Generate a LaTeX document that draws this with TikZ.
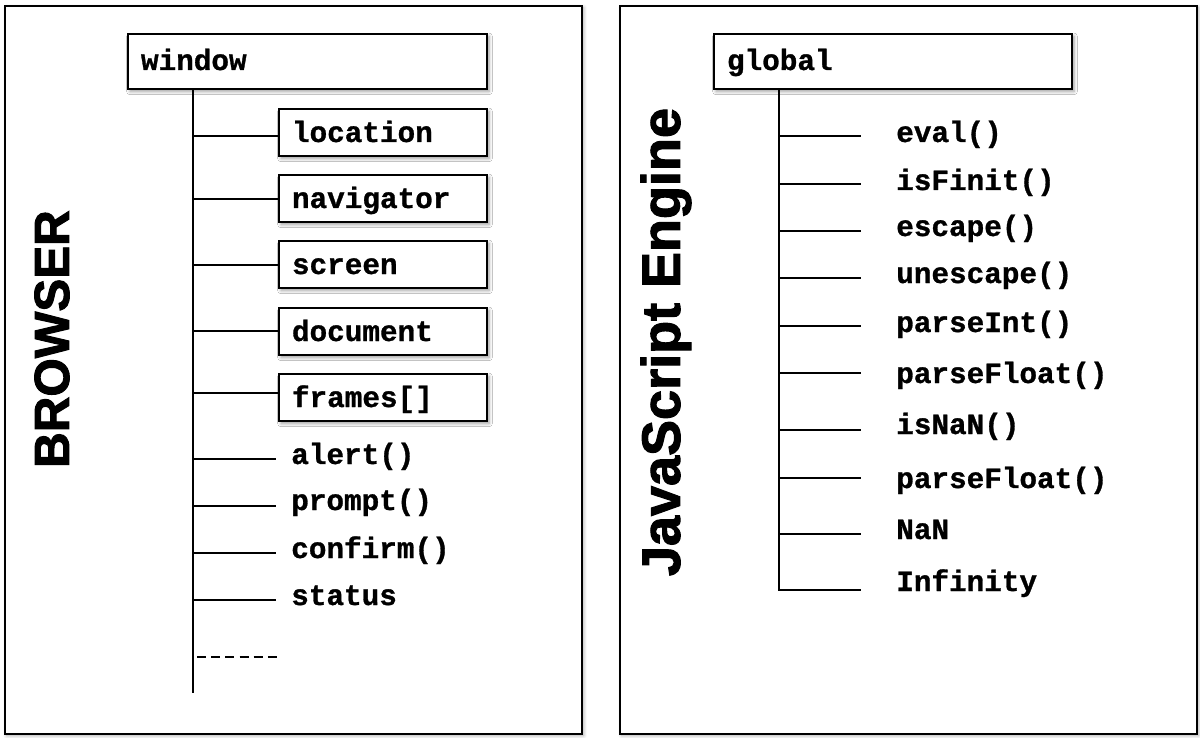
\documentclass[tikz,border=0pt]{standalone}
\usepackage{fontspec}
\setmonofont[BoldFeatures={FakeBold=1}]{Liberation Mono}
\newfontfamily\titlefont[FakeBold=2]{Liberation Sans Bold}
\usetikzlibrary{shadows.blur}
\def\px{0.75pt}
\tikzset{
  panel/.style={draw, line width=1.5pt, fill=white, anchor=north west, inner sep=0pt,
    blur shadow={shadow xshift=1.2pt, shadow yshift=-1.2pt, shadow blur radius=2.5pt, shadow opacity=35}},
  monotext/.style={font=\ttfamily\bfseries\fontsize{22}{26}\selectfont},
  parentbox/.style={monotext, draw, line width=1.5pt, fill=white, anchor=base west,
    inner ysep=0pt, inner xsep=9.75pt, text height=27pt, text depth=14.25pt,
    blur shadow={shadow xshift=1.5pt, shadow yshift=-1.8pt, shadow blur radius=2.5pt, shadow opacity=40}},
  childbox/.style={monotext, draw, line width=1.5pt, fill=white, anchor=base west,
    inner ysep=0pt, inner xsep=9.75pt, text height=24.75pt, text depth=10.5pt,
    blur shadow={shadow xshift=1.5pt, shadow yshift=-1.8pt, shadow blur radius=2.5pt, shadow opacity=40}},
  leftitem/.style={monotext, anchor=base west, inner xsep=11.25pt, inner ysep=0pt},
  rightitem/.style={monotext, anchor=base west, inner xsep=26.25pt, inner ysep=0pt},
  conn/.style={line width=1.1pt},
  spine/.style={line width=1.3pt},
  title/.style={font=\titlefont\fontsize{37}{40}\selectfont, inner sep=0pt, rotate=90},
}
\begin{document}
\begin{tikzpicture}[x=0.75pt, y=-0.75pt]
\useasboundingbox (0,0) rectangle (1200,738);
% panels
\node[panel, minimum width=577*\px, minimum height=728*\px] (bpanel) at (4,5) {};
\node[panel, minimum width=577*\px, minimum height=728*\px] (jpanel) at (619,5) {};
% titles
\node[title] (browser) at (52,339) {BROWSER};
\node[title, font=\titlefont\fontsize{40.5}{44}\selectfont] (jsengine) at (666,342) {JavaScript Engine};

% ---------------- BROWSER side ----------------
\node[parentbox] (window) at (127,70) {\makebox[249.75pt][l]{window}};
\coordinate (btop) at (193,89);
\coordinate (bbot) at (193,693);
\draw[spine] (btop) -- (bbot);

\node[childbox] (location)  at (278,142) {\makebox[136.5pt][l]{location}};
\node[childbox] (navigator) at (278,208) {\makebox[136.5pt][l]{navigator}};
\node[childbox] (screen)    at (278,274) {\makebox[136.5pt][l]{screen}};
\node[childbox] (document)  at (278,341) {\makebox[136.5pt][l]{document}};
\node[childbox] (frames)    at (278,407) {\makebox[136.5pt][l]{frames[]}};

\node[leftitem] (alert)   at (276,464) {alert()};
\node[leftitem] (prompt)  at (276,510) {prompt()};
\node[leftitem] (confirm) at (276,558) {confirm()};
\node[leftitem] (status)  at (276,605) {status};

\draw[conn] ([yshift=4.5pt]location.base west -| btop) -- ([yshift=4.5pt]location.base west);
\draw[conn] ([yshift=6.75pt]navigator.base west -| btop) -- ([yshift=6.75pt]navigator.base west);
\draw[conn] ([yshift=6.75pt]screen.base west -| btop) -- ([yshift=6.75pt]screen.base west);
\draw[conn] ([yshift=7.5pt]document.base west -| btop) -- ([yshift=7.5pt]document.base west);
\draw[conn] ([yshift=10.5pt]frames.base west -| btop) -- ([yshift=10.5pt]frames.base west);
\draw[conn] ([yshift=3.75pt]alert.base west -| btop) -- ([yshift=3.75pt]alert.base west);
\draw[conn] ([yshift=3pt]prompt.base west -| btop) -- ([yshift=3pt]prompt.base west);
\draw[conn] ([yshift=3.75pt]confirm.base west -| btop) -- ([yshift=3.75pt]confirm.base west);
\draw[conn] ([yshift=3.75pt]status.base west -| btop) -- ([yshift=3.75pt]status.base west);

\coordinate (dashA) at (197,657);
\coordinate (dashB) at (277,657);
\draw[conn, dash pattern=on 6.8pt off 3.84pt] (dashA) -- (dashB);

% ---------------- JavaScript Engine side ----------------
\node[parentbox] (global) at (713,70) {\makebox[249pt][l]{global}};
\coordinate (gtop) at (779,89);

\node[rightitem] (eval)      at (861,142) {eval()};
\node[rightitem] (isfinit)   at (861,190) {isFinit()};
\node[rightitem] (escape)    at (861,236) {escape()};
\node[rightitem] (unescape)  at (861,283) {unescape()};
\node[rightitem] (parseint)  at (861,332) {parseInt()};
\node[rightitem] (parsefloat) at (861,383) {parseFloat()};
\node[rightitem] (isnan)     at (861,434) {isNaN()};
\node[rightitem] (parsefloatb) at (861,488) {parseFloat()};
\node[rightitem] (nan)       at (861,539) {NaN};
\node[rightitem] (infinity)  at (861,591) {Infinity};

\draw[spine] (gtop) |- ([yshift=0.75pt]infinity.base west);
\draw[conn] ([yshift=4.5pt]eval.base west -| gtop) -- ([yshift=4.5pt]eval.base west);
\draw[conn] ([yshift=4.5pt]isfinit.base west -| gtop) -- ([yshift=4.5pt]isfinit.base west);
\draw[conn] ([yshift=3.75pt]escape.base west -| gtop) -- ([yshift=3.75pt]escape.base west);
\draw[conn] ([yshift=3.75pt]unescape.base west -| gtop) -- ([yshift=3.75pt]unescape.base west);
\draw[conn] ([yshift=4.5pt]parseint.base west -| gtop) -- ([yshift=4.5pt]parseint.base west);
\draw[conn] ([yshift=7.5pt]parsefloat.base west -| gtop) -- ([yshift=7.5pt]parsefloat.base west);
\draw[conn] ([yshift=3pt]isnan.base west -| gtop) -- ([yshift=3pt]isnan.base west);
\draw[conn] ([yshift=7.5pt]parsefloatb.base west -| gtop) -- ([yshift=7.5pt]parsefloatb.base west);
\draw[conn] ([yshift=3.75pt]nan.base west -| gtop) -- ([yshift=3.75pt]nan.base west);
\end{tikzpicture}
\end{document}
